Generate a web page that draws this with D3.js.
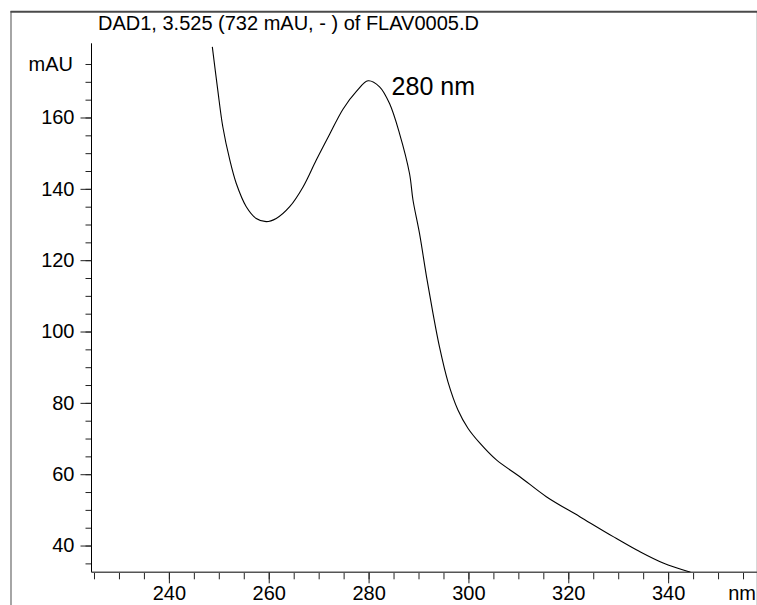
<!DOCTYPE html>
<html>
<head>
<meta charset="utf-8">
<script src="https://cdn.jsdelivr.net/npm/d3@7"></script>
<style>
  html, body { margin: 0; padding: 0; background: #fff; }
  svg { display: block; }
  text { font-family: "Liberation Sans", Arial, sans-serif; fill: #000; }
</style>
</head>
<body>
<svg id="chart" width="757" height="605"></svg>
<script>
// ---- data ----
const title = "DAD1, 3.525 (732 mAU, - ) of FLAV0005.D";
const wavelengths = [248.7, 249.8, 250.8, 252.2, 253.5, 255.5, 257.5, 259.5, 261.5, 264.2, 266.9, 269.5, 272.2, 274.9, 277.6, 279.9, 282.2, 284.2, 286.2, 288.2, 288.9, 290.2, 291.6, 292.9, 294.2, 295.9, 297.9, 299.9, 302.3, 305.6, 310.3, 315.6, 322.3, 329.0, 334.3, 339.0, 344.5];
const absorbance = [179.8, 167.6, 157.4, 148.1, 141.5, 135.0, 131.7, 130.8, 131.7, 135.0, 140.6, 148.0, 155.3, 162.4, 167.4, 170.3, 168.6, 163.9, 155.5, 144.3, 136.8, 127.5, 115.4, 105.1, 95.7, 85.9, 78.0, 72.9, 68.7, 64.0, 59.3, 53.7, 48.1, 42.5, 38.3, 35.1, 32.5];
const xMajorTicks = [240, 260, 280, 300, 320, 340];
const xMinorTicks = d3.range(225, 360, 5);
const yMajorTicks = [40, 60, 80, 100, 120, 140, 160];
const yMinorTicks = d3.range(35, 180, 5);
const xDomain = [224.5, 357.8];
const yDomain = [32.5, 180.8];
const peakLabel = "280 nm";
const peakWavelength = 280;
const peakValue = 170.3;
const xUnit = "nm";
const yUnit = "mAU";
const yUnitTick = 175;

// ---- layout ----
const svg = d3.select("#chart");
const plot = { left: 91.5, right: 757, top: 43.3, bottom: 572.3 };

const x = d3.scaleLinear().domain(xDomain).range([plot.left, plot.right]);
const y = d3.scaleLinear().domain(yDomain).range([plot.bottom, plot.top]);

// outer frame
svg.append("line").attr("x1", 11).attr("x2", 11).attr("y1", 11).attr("y2", 605)
  .attr("stroke", "#6a6a6a").attr("stroke-width", 1.2);
svg.append("line").attr("x1", 756.5).attr("x2", 756.5).attr("y1", 11).attr("y2", 605)
  .attr("stroke", "#d8d8d8").attr("stroke-width", 1);
svg.append("line").attr("x1", 10.5).attr("x2", 757).attr("y1", 11.8).attr("y2", 11.8)
  .attr("stroke", "#4a4a4a").attr("stroke-width", 2);

// title
svg.append("text").attr("x", 98).attr("y", 30)
  .attr("font-size", 20).text(title);

// y axis with minor & major ticks
const yAxisMinor = d3.axisLeft(y).tickValues(yMinorTicks).tickSize(6).tickFormat("");
const yAxisMajor = d3.axisLeft(y).tickValues(yMajorTicks).tickSize(11).tickPadding(6).tickFormat(d3.format("d"));
const gyMinor = svg.append("g").attr("transform", `translate(${plot.left},0)`).call(yAxisMinor);
gyMinor.select(".domain").remove();
const gy = svg.append("g").attr("transform", `translate(${plot.left},0)`).call(yAxisMajor);
gy.select(".domain").attr("d", `M0,${plot.top}V${plot.bottom}`);
gy.selectAll("text").attr("font-size", 20).attr("font-family", "Liberation Sans, Arial, sans-serif");

// y unit label
svg.append("text").attr("x", 73).attr("y", y(yUnitTick)).attr("dy", "0.35em")
  .attr("text-anchor", "end").attr("font-size", 20).text(yUnit);

// x axis
const xAxisMinor = d3.axisBottom(x).tickValues(xMinorTicks).tickSize(7).tickFormat("");
const xAxisMajor = d3.axisBottom(x).tickValues(xMajorTicks).tickSize(11).tickPadding(3).tickFormat(d3.format("d"));
const gxMinor = svg.append("g").attr("transform", `translate(0,${plot.bottom})`).call(xAxisMinor);
gxMinor.select(".domain").remove();
const gx = svg.append("g").attr("transform", `translate(0,${plot.bottom})`).call(xAxisMajor);
gx.select(".domain").attr("d", `M${plot.left},0H${plot.right}`).attr("stroke", "#555").attr("stroke-width", 1.5);
gx.selectAll("text").attr("font-size", 20).attr("font-family", "Liberation Sans, Arial, sans-serif");
svg.selectAll(".tick line").attr("stroke", "#222");

// x unit label
svg.append("text").attr("x", 756).attr("y", 600).attr("text-anchor", "end")
  .attr("font-size", 20).text(xUnit);

// clip for the curve
svg.append("clipPath").attr("id", "clip").append("rect")
  .attr("x", plot.left).attr("y", plot.top)
  .attr("width", plot.right - plot.left).attr("height", plot.bottom - plot.top);

const pts = wavelengths.map((w, i) => [w, absorbance[i]]);
const line = d3.line().x(d => x(d[0])).y(d => y(d[1])).curve(d3.curveCatmullRom.alpha(0.5));
svg.append("path").datum(pts).attr("clip-path", "url(#clip)")
  .attr("d", line).attr("fill", "none").attr("stroke", "#000").attr("stroke-width", 1.1);

// peak label
svg.append("text").attr("x", x(peakWavelength) + 23).attr("y", y(peakValue) + 14)
  .attr("font-size", 25).text(peakLabel);
</script>
</body>
</html>
